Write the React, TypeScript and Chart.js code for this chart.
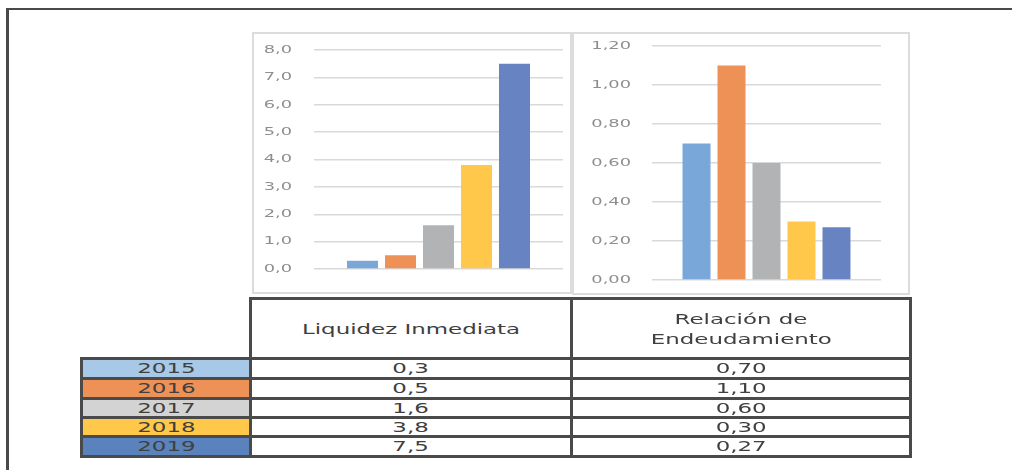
import React, { useEffect, useRef } from 'react';
import { Chart, registerables } from 'chart.js';

Chart.register(...registerables);

const years = ['2015', '2016', '2017', '2018', '2019'];
const liquidez = [0.3, 0.5, 1.6, 3.8, 7.5];
const endeudamiento = [0.7, 1.1, 0.6, 0.3, 0.27];
const liquidezCategory = ['Liquidez Inmediata'];
const endeudamientoCategory = ['Relación de Endeudamiento'];
const liquidezTickLabels = ['0,0', '1,0', '2,0', '3,0', '4,0', '5,0', '6,0', '7,0', '8,0'];
const endeudamientoTickLabels = ['0,00', '0,20', '0,40', '0,60', '0,80', '1,00', '1,20'];
const barColors = ['#79A7D9', '#EE9156', '#B2B3B4', '#FFC84A', '#6883C2'];
const yearFills = ['#A8C8E8', '#EE9156', '#D3D3D3', '#FFC84A', '#5A83BE'];

const fmt = (v: number, d: number) => v.toFixed(d).replace('.', ',');

const TEXT_SX = 1.58;
const TICK_SX = 1.62;

function stretchedTicksPlugin(pad: number) {
  return {
    id: 'stretchedTicks',
    afterDraw(chart: any) {
      const scale = chart.scales.y;
      const ctx = chart.ctx;
      ctx.save();
      ctx.font = '11px "DejaVu Sans"';
      ctx.fillStyle = '#8E8E8E';
      ctx.textAlign = 'right';
      ctx.textBaseline = 'middle';
      scale.ticks.forEach((t: any, i: number) => {
        const y = scale.getPixelForTick(i);
        ctx.save();
        ctx.translate(chart.chartArea.left - pad, y);
        ctx.scale(TICK_SX, 1);
        ctx.fillText(t.label, 0, 0);
        ctx.restore();
      });
      ctx.restore();
    },
  };
}

function makeChart(
  canvas: HTMLCanvasElement,
  category: string[],
  values: number[],
  tickLabels: string[],
  max: number,
  step: number,
  axisWidth: number,
  labelPad: number,
  padding: { top: number; right: number; bottom: number; left: number },
  catPct: number,
  barPct: number
) {
  return new Chart(canvas, {
    type: 'bar',
    data: {
      labels: category,
      datasets: years.map((y, i) => ({
        label: y,
        data: [values[i]],
        backgroundColor: barColors[i],
        borderWidth: 0,
        categoryPercentage: catPct,
        barPercentage: barPct,
      })),
    },
    options: {
      responsive: false,
      animation: false,
      devicePixelRatio: 1,
      layout: { padding },
      plugins: { legend: { display: false }, tooltip: { enabled: false } },
      scales: {
        x: { display: false },
        y: {
          min: 0,
          max,
          ticks: {
            stepSize: step,
            color: 'rgba(0,0,0,0)',
            font: { size: 11, family: 'DejaVu Sans' },
            callback: (_v: any, i: number) => tickLabels[i],
          },
          grid: { color: '#D9D9D9', lineWidth: 1.5, drawTicks: false },
          border: { display: false },
          afterFit: (s: any) => {
            s.width = axisWidth;
          },
        } as any,
      },
    },
    plugins: [stretchedTicksPlugin(labelPad)],
  } as any);
}

function Stretch({ children }: { children: React.ReactNode }) {
  return (
    <span style={{ display: 'inline-block', transform: `scaleX(${TEXT_SX})`, whiteSpace: 'nowrap' }}>
      {children}
    </span>
  );
}

export default function App() {
  const c1 = useRef<HTMLCanvasElement>(null);
  const c2 = useRef<HTMLCanvasElement>(null);

  useEffect(() => {
    const ch1 = makeChart(c1.current!, liquidezCategory, liquidez, liquidezTickLabels, 8, 1, 62, 22,
      { top: 18, right: 9, bottom: 25, left: 0 }, 0.763, 0.816);
    const ch2 = makeChart(c2.current!, endeudamientoCategory, endeudamiento, endeudamientoTickLabels, 1.2, 0.2, 80, 21,
      { top: 14, right: 29, bottom: 15, left: 0 }, 0.764, 0.8);
    return () => {
      ch1.destroy();
      ch2.destroy();
    };
  }, []);

  const line = '#4A4A4A';
  const rowLines = [357, 377, 397, 416, 435, 455];
  const vLines = [80, 249, 570, 909];
  const textColor = '#404040';
  const font = '14.5px "DejaVu Sans"';

  const abs = (l: number, t: number, w: number, h: number, extra: React.CSSProperties = {}): React.CSSProperties => ({
    position: 'absolute', left: l, top: t, width: w, height: h, boxSizing: 'border-box', ...extra,
  });

  return (
    <div style={{ position: 'absolute', left: 0, top: 0, width: 1012, height: 470, overflow: 'hidden', background: '#fff', fontFamily: '"DejaVu Sans"' }}>
      {/* outer frame */}
      <div style={abs(6, 8, 1010, 470, { borderTop: `2px solid ${line}`, borderLeft: `3px solid ${line}` })} />

      {/* charts */}
      <canvas ref={c1} width={320} height={262} style={{ position: 'absolute', left: 252, top: 32 }} />
      <div style={abs(252, 32, 320, 262, { border: '2px solid #DCDCDC' })} />
      <canvas ref={c2} width={338} height={263} style={{ position: 'absolute', left: 572, top: 32 }} />
      <div style={abs(572, 32, 338, 263, { border: '2px solid #DCDCDC' })} />

      {/* year fills */}
      {years.map((y, i) => (
        <div key={'f' + y} style={abs(80, rowLines[i], 172, rowLines[i + 1] - rowLines[i] + 3, { background: yearFills[i] })} />
      ))}

      {/* table lines */}
      <div style={abs(249, 297, 663, 3, { background: line })} />
      {rowLines.map((t) => (
        <div key={'h' + t} style={abs(80, t, 832, 3, { background: line })} />
      ))}
      {vLines.map((x, i) => (
        <div key={'v' + x} style={abs(x, i === 0 ? 357 : 297, 3, i === 0 ? 101 : 161, { background: line })} />
      ))}

      {/* header texts */}
      <div style={abs(252, 300, 318, 57, { display: 'flex', alignItems: 'center', justifyContent: 'center', font, color: textColor })}>
        <Stretch>{liquidezCategory[0]}</Stretch>
      </div>
      <div style={abs(573, 300, 336, 57, { display: 'flex', flexDirection: 'column', alignItems: 'center', justifyContent: 'center', font, color: textColor, lineHeight: '20px' })}>
        <Stretch>Relación de</Stretch>
        <Stretch>Endeudamiento</Stretch>
      </div>

      {/* rows */}
      {years.map((y, i) => {
        const top = rowLines[i] + 3;
        const h = rowLines[i + 1] - rowLines[i] - 3;
        const cell = (l: number, w: number, txt: string, k: string) => (
          <div key={k} style={abs(l, top, w, h, { display: 'flex', alignItems: 'center', justifyContent: 'center', font, color: textColor, lineHeight: '1' })}>
            <Stretch>{txt}</Stretch>
          </div>
        );
        return (
          <React.Fragment key={'r' + y}>
            {cell(83, 166, y, 'y' + y)}
            {cell(252, 318, fmt(liquidez[i], 1), 'a' + y)}
            {cell(573, 336, fmt(endeudamiento[i], 2), 'b' + y)}
          </React.Fragment>
        );
      })}
    </div>
  );
}
